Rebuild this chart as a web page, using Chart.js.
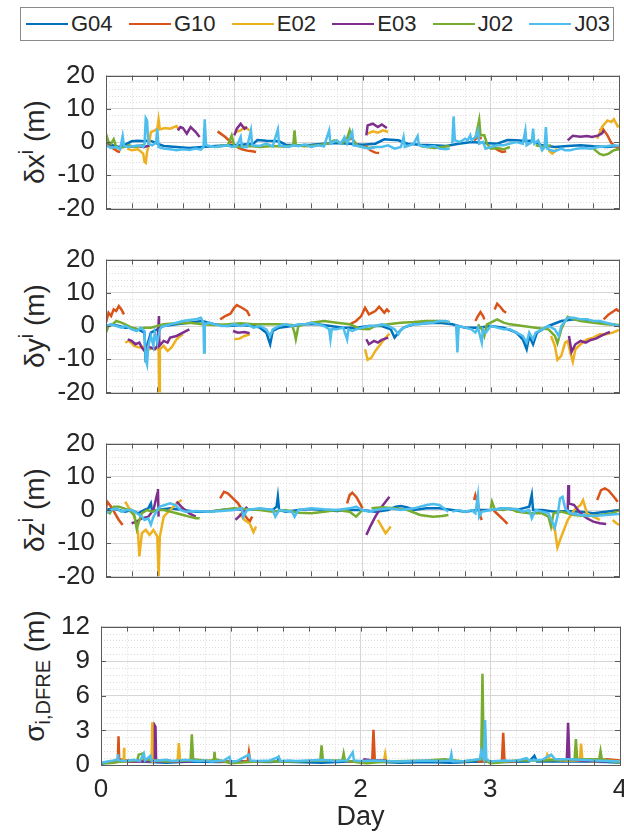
<!DOCTYPE html>
<html>
<head>
<meta charset="utf-8">
<script src="https://cdn.jsdelivr.net/npm/chart.js@4.4.1/dist/chart.umd.min.js"></script>
<style>
  body { margin: 0; background: #fff; overflow: hidden; font-family: "Liberation Sans", Arial, sans-serif; color: #262626; }
  #page { position: relative; width: 624px; height: 840px; overflow: hidden; }
  canvas { position: absolute; left: 0; }
  .legend { position: absolute; left: 20px; top: 7px; width: 594px; height: 34px; box-sizing: border-box;
            border: 1px solid #8a8a8a; display: flex; justify-content: space-between; align-items: center;
            padding: 0 3px 0 5px; font-size: 22px; }
  .legend .item { display: flex; align-items: center; }
  .legend .swatch { display: inline-block; width: 42px; height: 2px; margin-right: 3px; }
  .ylabel { position: absolute; transform: translate(-50%, -50%) rotate(-90deg); white-space: nowrap; font-size: 28px; }
  .ylabel sup { font-size: 20px; vertical-align: 11px; }
  .ylabel sub { font-size: 20px; vertical-align: -6px; }
</style>
</head>
<body>
<div id="page">
  <div class="legend" id="legend"></div>
  <div class="ylabel" style="left:33px; top:142px">&delta;x<sup>i</sup> (m)</div>
  <div class="ylabel" style="left:33px; top:326px">&delta;y<sup>i</sup> (m)</div>
  <div class="ylabel" style="left:33px; top:510px">&delta;z<sup>i</sup> (m)</div>
  <div class="ylabel" style="left:37px; top:676px">&sigma;<sub>i,DFRE</sub> (m)</div>
  <canvas id="cx" width="650" height="186" style="top:49px"></canvas>
  <canvas id="cy" width="650" height="186" style="top:233px"></canvas>
  <canvas id="cz" width="650" height="186" style="top:417px"></canvas>
  <canvas id="cs" width="650" height="240" style="top:600px"></canvas>
</div>
<script>
// satellites and their line colours
const seriesNames = ['G04', 'G10', 'E02', 'E03', 'J02', 'J03'];
const seriesColors = ['#0072BD', '#D95319', '#EDB120', '#7E2F8E', '#77AC30', '#4DBEEE'];

// axis ticks
const dayTicks = [0, 1, 2, 3, 4];
const posTicks = [-20, -10, 0, 10, 20];
const sigmaTicks = [0, 3, 6, 9, 12];

// [day, metres] samples, null = data gap
const dx_G04 = [[0,-0.5],[0.05,-1],[0.1,-1.5],[0.15,-0.8],[0.2,0.2],[0.25,0.4],[0.3,0.2],[0.33,0.5],[0.36,0.2],[0.4,-0.5],[0.45,-1.2],[0.55,-1.5],[0.65,-1.8],[0.75,-1.5],[0.85,-1.2],[0.95,-1],[1.05,-0.8],[1.15,-0.5],[1.18,0.6],[1.25,0.4],[1.3,0.3],[1.35,0.2],[1.4,-0.8],[1.5,-1],[1.6,-0.8],[1.7,-0.5],[1.8,-0.3],[1.9,-0.5],[2.0,-0.8],[2.1,-0.5],[2.17,0.8],[2.22,0.7],[2.28,0.5],[2.35,-0.5],[2.45,-0.8],[2.55,-1],[2.65,-1.2],[2.75,-0.5],[2.85,0],[2.95,-0.3],[3.05,-0.5],[3.13,0.6],[3.2,0.5],[3.27,0.3],[3.32,0.4],[3.4,-1],[3.5,-1.5],[3.6,-1.2],[3.7,-1],[3.8,-1.3],[3.9,-1.5],[4.0,-1.2]];
const dx_G10 = [[0,-0.5],[0.03,-1.5],[0.06,-2],[0.09,-2.8],[0.11,-3],null,[0.87,3.2],[0.93,1.5],[0.98,-0.3],null,[1.02,-1.5],[1.06,-2.2],[1.1,-2.6],[1.14,-2.8],[1.17,-3],null,[1.88,1.5],[1.9,0.8],[1.92,1.2],null,[2.02,-1],[2.06,-2.5],[2.1,-3.2],[2.13,-3.3],null,[2.87,0.5],[2.9,1.5],[2.93,1],null,[3.03,-1.8],[3.06,-2.5],[3.09,-3],[3.12,-2.8],null,[3.85,3.5],[3.87,4.2],[3.91,2],[3.94,-0.3],[3.98,-1.6],[4.0,-2]];
const dx_E02 = [[0.165,-2],[0.2,-2.5],[0.25,-2.2],[0.29,-3.5],[0.3,-6],[0.31,-6.3],[0.32,-3],[0.33,-1.5],[0.35,3],[0.38,3.5],[0.4,4],[0.41,6.8],[0.42,3.8],[0.46,4.2],[0.5,4],[0.55,4.8],[0.57,3.5],null,[1.01,3],[1.05,3.5],[1.08,4.5],[1.1,4],[1.12,3.5],null,[2.04,2.5],[2.08,3.2],[2.12,2.8],[2.16,3.5],[2.2,3],null,[3.45,-2.5],[3.48,-3.5],[3.5,-2.8],[3.52,-2],null,[3.83,1],[3.87,4.7],[3.91,6.5],[3.94,6],[3.96,6.9],[3.99,4.7],[4.0,5]];
const dx_E03 = [[0.18,-1.5],[0.24,-1.2],[0.3,-1.5],[0.34,-1],null,[0.56,3.5],[0.58,4.5],[0.6,4.2],[0.63,2.5],[0.66,4.5],[0.7,3],[0.73,1.5],null,[1.0,2],[1.02,4],[1.05,5.5],[1.08,4],[1.1,4.5],null,[2.03,2],[2.04,5],[2.08,5.5],[2.12,4.5],[2.15,5.3],[2.19,4.2],null,[3.6,0.5],[3.64,1.9],[3.7,1.6],[3.75,1.8],[3.79,1.5],[3.84,2],[3.87,2.7],[3.88,3.5]];
const dx_J02 = [[0,2.5],[0.02,0],[0.04,-0.5],[0.06,0.8],[0.08,-1.5],[0.1,-1.8],[0.14,-1.5],[0.18,-1],[0.22,-1.5],[0.26,-1.2],[0.3,-0.8],null,[0.86,-1.5],[0.9,-1.2],[0.95,-1],[0.98,2],[1.0,-1.3],[1.05,-1.5],[1.12,-1.2],[1.2,-1.5],[1.3,-1.2],[1.4,-1.4],[1.46,-1],[1.47,3.5],[1.48,-1],[1.55,-1.3],[1.65,-1],[1.73,-0.5],[1.78,0.5],[1.84,-0.5],[1.88,1],[1.9,3.5],[1.92,1],[1.96,-1],[2.0,-1.5],[2.05,-1.8],[2.1,-1.5],null,[2.45,-1.2],[2.5,-1.5],[2.56,-1.8],[2.62,-1.5],[2.68,-1.2],null,[2.88,1],[2.91,6.7],[2.92,2],[2.95,2],[2.97,-0.5],[3.0,-2],[3.05,-1.8],[3.1,-2.2],[3.15,-1.5],null,[3.35,-1],[3.42,-1.5],[3.47,-1],null,[3.8,-2],[3.85,-3.6],[3.88,-4],[3.92,-3.5],[3.96,-2.5],[4.0,-2.2]];
const dx_J03 = [[0,-1],[0.04,-1.8],[0.08,-1.5],[0.11,-2.2],[0.13,1.8],[0.14,-1.2],[0.17,-1.5],[0.22,-1.2],[0.27,-1],[0.29,-1.5],[0.3,-0.8],[0.31,7.2],[0.32,6.5],[0.33,-0.5],[0.36,-1],[0.39,-0.2],[0.4,4],[0.41,-1.5],[0.45,-2],[0.5,-2.2],[0.55,-2.5],[0.6,-2.2],[0.65,-2.4],[0.7,-2],[0.74,-2.3],[0.76,-1.5],[0.77,6.8],[0.78,-1],[0.85,-1.5],[0.9,-1.3],[0.95,-1],[0.98,-1.5],[1.02,-1.2],[1.05,1.5],[1.06,-1.5],[1.1,-1.5],[1.13,3.5],[1.14,-1],[1.2,-1.2],[1.25,-0.5],[1.3,-1.3],[1.34,3.8],[1.35,-1],[1.42,-1.5],[1.47,-1],[1.5,-1.3],[1.55,-0.8],[1.6,-1.5],[1.65,-1],[1.7,-1.3],[1.74,3.5],[1.75,-0.5],[1.8,0.5],[1.83,-0.5],[1.86,1.5],[1.88,-0.5],[1.92,3],[1.93,-1],[1.96,-1.2],[2.0,-1.5],[2.05,-2],[2.1,-1.5],[2.15,-1.5],[2.2,-1],[2.25,-2],[2.3,-1.5],[2.32,1.5],[2.33,-1.5],[2.4,-0.5],[2.43,1.8],[2.44,-1],[2.5,-1.5],[2.56,-1.2],[2.6,-2],[2.65,-2.2],[2.68,-2],null,[2.7,-0.5],[2.71,7.7],[2.72,0.5],[2.76,0],[2.8,1],[2.82,0.5],[2.84,2],[2.85,0.5],[2.88,1.5],[2.9,3.5],[2.91,-0.5],[2.94,0],[2.96,-2],[3.0,-1.5],[3.05,-1],[3.1,-1],[3.15,-0.5],[3.2,0],[3.25,-0.5],[3.27,3.5],[3.28,-1],[3.32,0],[3.33,4],[3.34,-0.5],[3.37,0.5],[3.4,-2.5],[3.42,-1.5],[3.43,4.5],[3.44,-2],[3.47,-2.5],[3.5,-2.8],[3.55,-2],[3.58,-2.5],[3.62,-2.5],[3.67,-2],[3.72,-1.8],[3.78,-2],[3.84,-1.5],[3.9,-1.3],[3.96,-1],[4.0,-1.2]];

const dy_G04 = [[0,0],[0.05,0.5],[0.1,0],[0.15,-0.5],[0.2,-0.5],[0.25,-1],[0.3,-2],[0.31,-11],[0.32,-6],[0.35,-2],[0.4,-1],[0.45,0],[0.55,0.5],[0.65,1],[0.75,1.5],[0.85,0.5],[0.95,0],[1.05,0.3],[1.15,0],[1.2,-0.5],[1.25,-2],[1.28,-5.5],[1.3,-1.5],[1.35,-0.5],[1.45,0],[1.55,0.5],[1.65,0.5],[1.75,0],[1.85,-0.5],[1.95,-0.5],[2.05,0],[2.15,0],[2.22,-1],[2.25,-3.5],[2.28,-2],[2.32,-0.5],[2.4,0.5],[2.5,0.8],[2.6,1],[2.7,0.5],[2.8,-0.5],[2.9,-0.5],[3.0,0],[3.1,-0.5],[3.2,-2],[3.25,-4],[3.28,-7],[3.3,-3],[3.33,-5.5],[3.36,-2],[3.45,0],[3.55,1.5],[3.65,2],[3.75,1.5],[3.85,1],[3.95,0.5],[4.0,0]];
const dy_G10 = [[0,1],[0.02,4],[0.04,3],[0.06,5],[0.08,4.5],[0.1,6],[0.12,5],[0.14,3.5],null,[0.89,2],[0.93,3],[0.97,3.7],[1.0,5.5],[1.02,6.3],[1.06,5.5],[1.1,4.5],[1.12,3],null,[1.9,0.5],[1.95,1.5],[1.99,3],[2.02,5.5],[2.05,3.5],[2.1,4.5],[2.13,5.8],[2.17,4],[2.19,5],[2.21,4.2],null,[2.88,1.5],[2.9,3],[2.92,4.2],[2.94,3],[2.95,2],null,[3.03,5],[3.05,6.7],[3.08,5.5],[3.1,4.5],[3.12,4],null,[3.88,2],[3.92,3.5],[3.96,4.5],[3.98,5],[4.0,4.4]];
const dy_E02 = [[0.15,-5],[0.18,-4.5],[0.22,-6],[0.26,-6.5],[0.3,-6.2],[0.34,-7],[0.38,-6.5],[0.41,-7],[0.415,-20],[0.42,-7],[0.45,-6],[0.48,-7.5],[0.51,-6.5],[0.55,-4],[0.58,-3],[0.6,-2.5],null,[1.0,-4],[1.04,-3.8],[1.08,-3],[1.12,-2.5],null,[2.02,-7],[2.04,-10.2],[2.07,-9.5],[2.1,-7.5],[2.13,-6],[2.17,-4],[2.21,-2.3],null,[3.47,-3],[3.5,-6],[3.52,-10.2],[3.55,-9],[3.58,-5],[3.6,-4.5],[3.62,-8],[3.64,-10.8],[3.66,-7],[3.7,-5.5],[3.75,-4],[3.8,-3.5],[3.85,-2.5],[3.9,-2.5],[3.95,-2],[4.0,-1.2]];
const dy_E03 = [[0.17,-4],[0.2,-4.5],[0.23,-5.5],[0.26,-5],[0.28,-6.5],[0.3,-7.5],[0.32,-6],[0.35,-6.5],[0.38,-7],[0.4,-6],[0.413,3],[0.416,-6],[0.45,-4.5],[0.48,-5],[0.5,-3.5],[0.55,-3],[0.6,-2],[0.65,-1],null,[0.99,-1.5],[1.03,-2],[1.08,-1.8],[1.12,-2.2],null,[2.03,-4],[2.05,-5.5],[2.09,-4.5],[2.12,-5],[2.15,-4.2],[2.2,-3.5],null,[3.61,-3],[3.63,-7.8],[3.66,-5.5],[3.7,-4.5],[3.74,-5],[3.78,-4.2],[3.82,-3.8],[3.86,-3],[3.9,-2.2],[3.93,-1.8]];
const dy_J02 = [[0,-2],[0.02,0],[0.05,0.5],[0.08,1.5],[0.12,1],[0.15,0.5],[0.2,-0.5],[0.25,-1],[0.3,-0.5],[0.35,-0.5],[0.4,0],[0.45,0.5],[0.55,0.8],[0.65,1],[0.75,0.5],[0.85,0.3],[0.95,0.5],[1.05,0.8],[1.15,0.5],[1.25,0.5],[1.35,0.5],[1.45,0.3],[1.47,-2],[1.48,-4],[1.5,0],[1.6,1],[1.7,1.5],[1.8,1],[1.9,0.5],[1.98,-0.8],[2.05,-1],[2.1,0],[2.2,0.5],[2.3,1],[2.4,1.2],[2.5,1.5],[2.6,1.5],[2.68,1.2],null,[2.9,0.5],[2.93,-1],[2.95,-3],[2.97,0.5],[3.0,1],[3.05,2],[3.1,1],[3.15,0.5],[3.25,0],[3.35,-0.5],[3.45,-1],[3.5,-3],[3.52,-5.2],[3.55,-1],[3.58,1.5],[3.6,2.8],[3.65,2],[3.7,1.5],[3.8,1],[3.9,0.5],[4.0,0.3]];
const dy_J03 = [[0,0],[0.04,0.5],[0.08,0],[0.12,-0.5],[0.15,0],[0.2,-1],[0.24,-1.5],[0.27,-0.5],[0.3,-1.5],[0.31,-10],[0.32,-11.5],[0.33,-6],[0.35,-3],[0.37,-6],[0.38,-2],[0.4,-5],[0.42,-1],[0.44,0],[0.46,0],[0.5,0.5],[0.55,1],[0.6,1.5],[0.65,1.8],[0.7,2],[0.74,2.5],[0.76,1],[0.765,-8],[0.77,0.5],[0.8,1],[0.85,0.5],[0.9,0],[0.95,0],[1.0,0.5],[1.05,0],[1.1,0.5],[1.15,-0.5],[1.2,0],[1.25,-1],[1.28,-3],[1.3,-1],[1.35,0],[1.4,0.5],[1.45,0],[1.5,0.5],[1.55,0.5],[1.6,1],[1.65,0.5],[1.7,0],[1.74,-1],[1.75,-4],[1.76,-1],[1.8,-1],[1.85,-0.5],[1.88,-4],[1.89,-1],[1.92,-1.5],[1.95,-1],[2.0,-0.5],[2.05,0],[2.1,0],[2.15,0.5],[2.2,0],[2.25,-1],[2.28,-2.5],[2.3,-1],[2.35,0],[2.4,0.5],[2.45,0.5],[2.5,1],[2.55,1],[2.6,1.5],[2.65,1.5],[2.68,1],null,[2.73,0.5],[2.74,-8],[2.75,0],[2.8,-0.5],[2.85,-1],[2.88,-2],[2.9,-0.5],[2.93,-5],[2.94,-1],[2.96,-2],[3.0,0],[3.05,-0.5],[3.1,-1],[3.15,-1],[3.2,-2],[3.25,-3],[3.28,-5],[3.3,-2],[3.33,-4],[3.35,-2],[3.4,-1],[3.45,0],[3.5,-1],[3.53,-3],[3.55,0],[3.6,2.5],[3.65,2.5],[3.7,2],[3.75,2],[3.8,1.5],[3.85,1.5],[3.9,1],[3.95,0.5],[4.0,0]];

const dz_G04 = [[0,0],[0.05,0.5],[0.1,0],[0.15,-0.5],[0.2,0],[0.25,-1],[0.3,0],[0.33,0.5],[0.35,2],[0.36,-0.5],[0.4,0],[0.5,0.5],[0.6,0],[0.7,-0.5],[0.8,-0.5],[0.9,0],[1.0,0.3],[1.1,0],[1.2,0.3],[1.3,0],[1.33,1],[1.34,4],[1.35,0],[1.4,-0.5],[1.5,0],[1.6,0.3],[1.7,0],[1.8,-0.3],[1.9,0],[2.0,0],[2.1,-0.5],[2.2,0],[2.26,1],[2.3,1.2],[2.35,0.8],[2.4,0],[2.5,0.5],[2.6,0.5],[2.7,0],[2.8,-0.5],[2.9,0],[3.0,0],[3.1,0.5],[3.2,0],[3.25,0.5],[3.3,1],[3.32,4.6],[3.33,0],[3.4,0],[3.5,-0.5],[3.6,-0.3],[3.7,-0.5],[3.8,-1],[3.9,-0.5],[4.0,0]];
const dz_G10 = [[0,0.5],[0.01,2.5],[0.04,1],[0.07,-1],[0.1,-3],[0.13,-4.5],null,[0.89,3.5],[0.92,5.5],[0.95,5],[0.99,3.5],[1.03,2],[1.06,0],[1.09,-2],[1.12,-3.5],[1.14,-2],null,[1.88,2],[1.9,4.5],[1.92,5.2],[1.95,4],[1.98,2],[2.0,0.5],null,[2.87,3],[2.88,4.5],[2.9,2],[2.92,-2],[2.93,-3],null,[3.02,0],[3.06,-1.5],[3.1,-3],[3.13,-4.2],null,[3.83,3],[3.86,6],[3.89,6.5],[3.92,5.8],[3.96,4],[3.99,2.5]];
const dz_E02 = [[0.15,2.5],[0.18,0.5],[0.2,0],[0.23,-3],[0.25,-7],[0.26,-14],[0.28,-7],[0.31,-6],[0.34,-7.5],[0.37,-6],[0.4,-8],[0.41,-20],[0.42,-8],[0.45,-2],[0.5,0],[0.55,2],[0.59,3],null,[1.04,-1],[1.08,-3],[1.12,-4],[1.15,-6.7],[1.17,-5],null,[2.12,-3],[2.15,-5],[2.18,-7],[2.2,-6],[2.22,-5],null,[3.48,-5],[3.5,-6],[3.52,-11.3],[3.55,-8],[3.6,-3],[3.65,0],[3.7,1.5],[3.72,3],[3.75,-1],[3.8,-2],[3.85,-3],null,[3.95,-3],[3.98,-4],[4.0,-4.5]];
const dz_E03 = [[0.2,-4],[0.24,-3.5],[0.28,-2.5],[0.33,-2],[0.37,0],[0.4,5],[0.405,6.3],[0.41,-2],null,[0.55,2.5],[0.6,0.5],[0.65,-1],[0.7,-2],null,[1.01,-3],[1.05,-1.5],[1.1,1],null,[2.03,-7.5],[2.06,-5],[2.1,-2],[2.14,0.5],[2.18,2.5],[2.21,4],null,[3.6,0],[3.605,7.5],[3.61,2],[3.65,1.5],[3.7,-1],[3.75,-2.5],[3.8,-3.5],[3.85,-4],[3.9,-4.2]];
const dz_J02 = [[0,0],[0.03,-1],[0.06,1],[0.1,1],[0.14,0.5],[0.18,0],[0.22,-1.5],[0.24,-5.7],[0.26,-3],[0.28,-1],[0.32,0],[0.36,-0.5],[0.4,0],[0.45,0],[0.5,-0.5],[0.55,-1],[0.6,-1.5],[0.65,-2],[0.7,-2.5],[0.73,-2.5],null,[0.81,-0.5],[0.9,0],[1.0,0.5],[1.1,0.2],[1.2,0],[1.3,-0.5],[1.4,0],[1.5,-0.8],[1.6,-1],[1.7,-0.5],[1.8,0],[1.9,-0.5],[1.95,-2],[2.0,0],null,[2.07,0.5],[2.15,0.8],[2.25,0.5],[2.35,0],[2.45,-1.5],[2.55,-2],[2.62,-1.8],[2.67,-1.5],null,[3.0,0.5],[3.01,2.5],[3.03,0.3],[3.1,0],[3.15,0.5],[3.2,-0.5],[3.3,-1],[3.4,-1],[3.45,-2],[3.47,-5],[3.49,-1],[3.55,-0.5],[3.65,-1.5],[3.75,-1.8],[3.85,-1.5],[3.95,-1],[4.0,0]];
const dz_J03 = [[0,-1],[0.04,0],[0.08,0.5],[0.12,-0.5],[0.16,0],[0.2,0],[0.24,-1],[0.28,-2],[0.3,-3],[0.33,-2.5],[0.35,-4.4],[0.37,-2],[0.4,0],[0.42,1],[0.46,1.5],[0.5,2],[0.54,1.5],[0.58,0],[0.62,-0.5],[0.7,-0.3],[0.8,-0.5],[0.9,-0.3],[1.0,0],[1.06,0.5],[1.07,-2],[1.1,0],[1.2,0.5],[1.3,0],[1.32,-2],[1.35,0],[1.45,-0.5],[1.47,-2],[1.5,0],[1.6,0.5],[1.7,0.2],[1.8,0],[1.9,0.5],[1.95,1],[2.0,0],[2.05,-0.5],[2.1,0],[2.2,0.5],[2.3,0],[2.4,0.5],[2.5,1.5],[2.55,1.8],[2.6,1.5],[2.65,0],[2.67,-0.5],null,[2.7,-0.5],[2.75,0],[2.8,-0.5],[2.85,0],[2.88,-1],[2.9,4.4],[2.91,-2],[2.93,-0.5],[3.0,0],[3.1,0.5],[3.2,0.3],[3.25,-0.5],[3.3,0],[3.32,-2.5],[3.35,0],[3.4,-0.5],[3.45,-1],[3.5,-5.3],[3.52,-2],[3.54,3.5],[3.56,4],[3.58,0.5],[3.62,-1],[3.7,-1.5],[3.8,-1.8],[3.9,-1.5],[4.0,-1.2]];

const sig_G04 = [[0,0.1],[0.1,0.3],[0.3,0.3],[0.5,0.2],[0.7,0.3],[0.9,0.25],[1.1,0.3],[1.3,0.25],[1.36,0.3],[1.37,0.6],[1.38,0.3],[1.5,0.25],[1.7,0.2],[1.9,0.3],[2.1,0.3],[2.3,0.2],[2.5,0.25],[2.7,0.2],[2.9,0.3],[3.1,0.25],[3.3,0.3],[3.34,0.8],[3.36,0.3],[3.5,0.3],[3.7,0.3],[3.9,0.25],[4.0,0.2]];
const sig_G10 = [[0.1,0.3],[0.13,0.4],[0.135,2.5],[0.14,0.5],[0.2,0.4],[0.3,0.4],[0.4,0.3],null,[0.85,0.3],[0.87,0.5],[0.9,0.3],[1.0,0.3],[1.13,0.3],[1.14,1.1],[1.15,0.3],[1.25,0.3],null,[1.9,0.3],[2.0,0.3],[2.09,0.3],[2.1,3.06],[2.11,0.4],[2.2,0.3],null,[2.9,0.3],[3.0,0.3],[3.09,0.3],[3.1,2.8],[3.11,0.3],[3.2,0.3],null,[3.85,0.4],[3.9,0.5],[4.0,0.4]];
const sig_E02 = [[0.15,0.3],[0.175,0.4],[0.178,1.5],[0.18,0.3],[0.25,0.3],[0.39,0.4],[0.395,3.7],[0.4,0.3],[0.5,0.4],[0.59,0.3],[0.6,1.9],[0.61,0.3],null,[1.0,0.3],[1.1,0.3],null,[2.02,0.3],[2.1,0.3],[2.18,0.3],[2.19,0.95],[2.2,0.3],null,[3.43,0.4],[3.44,0.9],[3.46,0.5],[3.55,0.4],[3.69,0.4],[3.7,1.85],[3.71,0.4],[3.8,0.3],[3.9,0.4],[4.0,0.3]];
const sig_E03 = [[0.2,0.3],[0.3,0.3],[0.41,0.4],[0.415,3.4],[0.42,3.3],[0.425,0.3],[0.55,0.3],[0.7,0.3],null,[1.0,0.3],[1.1,0.3],null,[2.02,0.3],[2.03,0.5],[2.1,0.4],[2.2,0.4],null,[3.55,0.4],[3.59,0.5],[3.6,3.65],[3.61,0.5],[3.7,0.4],[3.9,0.3]];
const sig_J02 = [[0,0.2],[0.05,0.15],[0.1,0.2],[0.15,0.3],[0.28,0.4],[0.29,0.9],[0.32,1],[0.33,0.5],[0.5,0.3],[0.69,0.4],[0.7,2.65],[0.71,0.5],[0.8,0.4],[0.87,0.4],[0.875,1.15],[0.88,0.5],[0.95,0.3],[1.0,0.15],[1.05,0.2],[1.2,0.3],[1.5,0.3],[1.69,0.4],[1.7,1.7],[1.71,0.4],[1.86,0.4],[1.87,1],[1.88,0.4],[2.0,0.2],[2.05,0.15],[2.2,0.3],[2.5,0.4],[2.65,0.5],[2.8,0.3],[2.93,0.5],[2.94,7.9],[2.95,0.5],[3.0,0.15],[3.05,0.2],[3.2,0.4],[3.4,0.4],[3.65,0.5],[3.66,2.25],[3.67,0.5],[3.84,0.5],[3.85,1.2],[3.86,0.5],[4.0,0.2]];
const sig_J03 = [[0,0.2],[0.05,0.3],[0.1,0.4],[0.125,0.5],[0.13,0.95],[0.135,0.4],[0.2,0.35],[0.25,0.45],[0.3,0.35],[0.33,1],[0.34,0.4],[0.38,0.8],[0.39,0.35],[0.45,0.4],[0.5,0.45],[0.55,0.35],[0.6,0.4],[0.65,0.45],[0.7,0.4],[0.75,0.35],[0.8,0.4],[0.85,0.3],[0.9,0.35],[0.95,0.4],[0.99,0.7],[1.0,0.3],[1.05,0.35],[1.14,0.9],[1.15,0.4],[1.2,0.35],[1.3,0.4],[1.37,0.7],[1.38,0.35],[1.45,0.4],[1.5,0.35],[1.6,0.4],[1.7,0.45],[1.8,0.35],[1.9,0.4],[1.94,1.1],[1.95,0.4],[2.0,0.35],[2.1,0.4],[2.2,0.35],[2.3,0.3],[2.4,0.35],[2.5,0.4],[2.6,0.35],[2.69,0.4],[2.7,0.95],[2.71,0.3],[2.8,0.35],[2.92,0.5],[2.93,1.2],[2.95,0.5],[2.96,3.9],[2.97,0.5],[3.0,0.3],[3.1,0.4],[3.2,0.35],[3.28,0.6],[3.3,0.4],[3.4,0.45],[3.47,0.9],[3.5,0.5],[3.6,0.5],[3.7,0.45],[3.8,0.4],[3.9,0.35],[4.0,0.3]];

Chart.defaults.font.family = '"Liberation Sans", Arial, sans-serif';
Chart.defaults.font.size = 26;
Chart.defaults.color = '#262626';

// legend strip
const legendEl = document.getElementById('legend');
seriesNames.forEach((name, i) => {
  const item = document.createElement('span');
  item.className = 'item';
  item.innerHTML = '<span class="swatch" style="background:' + seriesColors[i] + '"></span>' + name;
  legendEl.appendChild(item);
});

function toPoints(arr) {
  const out = [];
  let lastX = 0;
  arr.forEach((p) => {
    if (p === null) { out.push({ x: lastX, y: null }); return; }
    lastX = p[0];
    out.push({ x: p[0], y: p[1] });
  });
  return out;
}

function steps(from, to, step) {
  const out = [];
  for (let v = from; v <= to + 1e-9; v += step) out.push(Math.round(v * 1000) / 1000);
  return out;
}

// dotted minor grid, box and inward tick marks
const matlabAxes = {
  id: 'matlabAxes',
  beforeDatasetsDraw(chart, args, opts) {
    const { ctx, chartArea: a, scales: { x, y } } = chart;
    ctx.save();
    ctx.strokeStyle = '#dedede';
    ctx.lineWidth = 1;
    ctx.setLineDash([1, 2]);
    ctx.beginPath();
    opts.minorX.forEach((d) => {
      const px = Math.round(x.getPixelForValue(d)) + 0.5;
      ctx.moveTo(px, a.top); ctx.lineTo(px, a.bottom);
    });
    opts.minorY.forEach((v) => {
      const py = Math.round(y.getPixelForValue(v)) + 0.5;
      ctx.moveTo(a.left, py); ctx.lineTo(a.right, py);
    });
    ctx.stroke();
    ctx.restore();
  },
  afterDatasetsDraw(chart, args, opts) {
    const { ctx, chartArea: a, scales: { x, y } } = chart;
    ctx.save();
    ctx.strokeStyle = '#5a5a5a';
    ctx.lineWidth = 1;
    ctx.beginPath();
    opts.tickX.forEach((d) => {
      const px = Math.round(x.getPixelForValue(d)) + 0.5;
      ctx.moveTo(px, a.bottom); ctx.lineTo(px, a.bottom - 5);
      ctx.moveTo(px, a.top); ctx.lineTo(px, a.top + 5);
    });
    opts.tickY.forEach((v) => {
      const py = Math.round(y.getPixelForValue(v)) + 0.5;
      ctx.moveTo(a.left, py); ctx.lineTo(a.left + 5, py);
      ctx.moveTo(a.right, py); ctx.lineTo(a.right - 5, py);
    });
    ctx.stroke();
    ctx.strokeRect(Math.round(a.left) + 0.5, Math.round(a.top) + 0.5, Math.round(a.right - a.left), Math.round(a.bottom - a.top));
    ctx.restore();
  }
};

function makePanel(id, sets, yTicks, minorStep, opts) {
  const yMin = yTicks[0], yMax = yTicks[yTicks.length - 1];
  const majorY = yTicks[1] - yTicks[0];
  const minorY = steps(yMin, yMax, minorStep).filter((v) => Math.abs(v / majorY - Math.round(v / majorY)) > 1e-6);
  const minorX = steps(0, 4, 0.2).filter((d) => Math.abs(d - Math.round(d)) > 1e-6);
  return new Chart(document.getElementById(id), {
    type: 'line',
    data: {
      datasets: sets.map((arr, i) => ({
        label: seriesNames[i],
        data: toPoints(arr),
        borderColor: seriesColors[i],
        borderWidth: 2.5,
        pointRadius: 0,
        tension: 0,
        spanGaps: false,
        order: seriesNames.length - i
      }))
    },
    options: {
      responsive: false,
      animation: false,
      devicePixelRatio: 1,
      events: [],
      layout: { padding: { left: 0, right: 650 - opts.right, top: opts.top, bottom: opts.bottom } },
      plugins: {
        legend: { display: false },
        tooltip: { enabled: false },
        matlabAxes: { minorX: minorX, minorY: minorY, tickX: steps(0, 4, 0.2), tickY: yTicks }
      },
      scales: {
        x: {
          type: 'linear', min: 0, max: 4,
          afterBuildTicks: (s) => { s.ticks = dayTicks.map((v) => ({ value: v })); },
          ticks: { display: opts.showX, padding: 9, maxRotation: 0 },
          grid: { color: '#d6d6d6', drawTicks: false },
          border: { display: false },
          title: { display: opts.showX, text: 'Day', font: { size: 27 }, padding: { top: 0, bottom: 6 } },
          afterFit: (s) => { s.height = opts.xHeight; }
        },
        y: {
          type: 'linear', min: yMin, max: yMax,
          afterBuildTicks: (s) => { s.ticks = yTicks.map((v) => ({ value: v })); },
          ticks: { padding: 11 },
          grid: { color: '#d6d6d6', drawTicks: false },
          border: { display: false },
          afterFit: (s) => { s.width = opts.left; }
        }
      }
    },
    plugins: [matlabAxes]
  });
}

const mid = { left: 106, right: 619, top: 20, bottom: 20, xHeight: 0, showX: false };
makePanel('cx', [dx_G04, dx_G10, dx_E02, dx_E03, dx_J02, dx_J03], posTicks, 2, mid);
makePanel('cy', [dy_G04, dy_G10, dy_E02, dy_E03, dy_J02, dy_J03], posTicks, 2, mid);
makePanel('cz', [dz_G04, dz_G10, dz_E02, dz_E03, dz_J02, dz_J03], posTicks, 2, mid);
makePanel('cs', [sig_G04, sig_G10, sig_E02, sig_E03, sig_J02, sig_J03], sigmaTicks, 0.6,
  { left: 101, right: 620, top: 21, bottom: 0, xHeight: 75, showX: true });
</script>
</body>
</html>
